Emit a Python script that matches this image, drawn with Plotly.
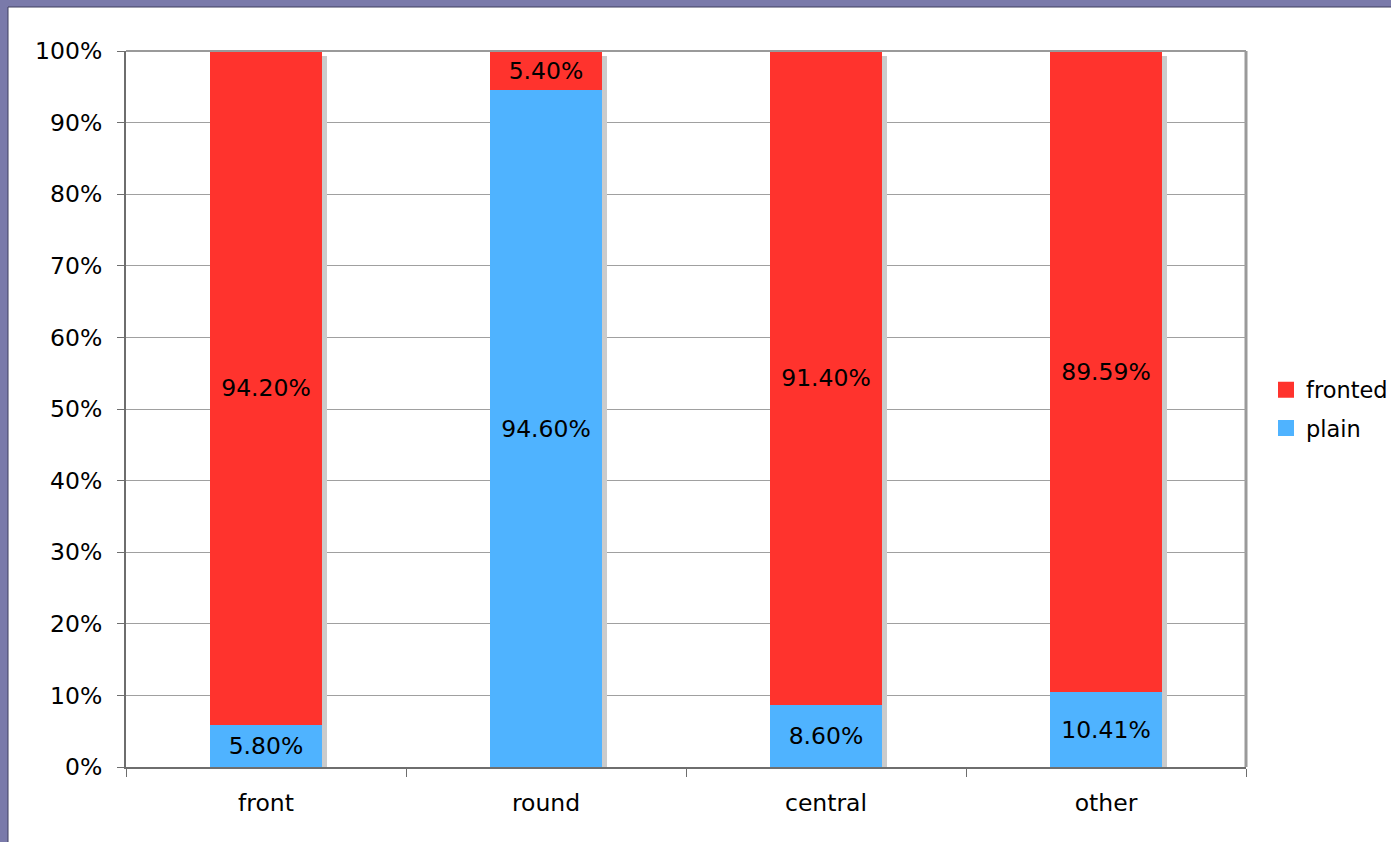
import plotly.graph_objects as go

# Share of fronted vs plain realisations per category
categories = ["front", "round", "central", "other"]
plain = [5.80, 94.60, 8.60, 10.41]
fronted = [94.20, 5.40, 91.40, 89.59]
y_ticks = [0, 10, 20, 30, 40, 50, 60, 70, 80, 90, 100]
y_tick_labels = [f"{v}%" for v in y_ticks]

RED = "#FF332D"
BLUE = "#4FB3FF"
SHADOW = "#CBCBCB"
FONT = "DejaVu Sans"
FS = 23.5
LEGEND_FS = 22.5

W, H = 1391, 842
ML, MR, MT, MB = 126, 145, 51, 75
PW, PH = W - ML - MR, H - MT - MB

BAR_W = 0.4
cat_px = PW / len(categories)
shadow_dx = 5 / cat_px          # shift of the drop shadow, in category units
shadow_dy = 5 / (PH / 100)      # drop of the shadow top, in % units

totals = [p + f for p, f in zip(plain, fronted)]

fig = go.Figure()

# drop shadow behind each stacked column
fig.add_trace(go.Bar(
    x=categories, y=[t - shadow_dy for t in totals], base=0,
    width=BAR_W, offset=-BAR_W / 2 + shadow_dx,
    marker=dict(color=SHADOW, line=dict(width=0)),
    hoverinfo="skip", showlegend=False,
))

fig.add_trace(go.Bar(
    x=categories, y=plain, base=0, name="plain",
    width=BAR_W, offset=-BAR_W / 2,
    marker=dict(color=BLUE, line=dict(width=0)),
    text=[f"{v:.2f}%" for v in plain],
    textposition="inside", insidetextanchor="middle", constraintext="none",
    textfont=dict(family=FONT, size=FS, color="black"),
    showlegend=False,
))

fig.add_trace(go.Bar(
    x=categories, y=fronted, base=plain, name="fronted",
    width=BAR_W, offset=-BAR_W / 2,
    marker=dict(color=RED, line=dict(width=0)),
    text=[f"{v:.2f}%" for v in fronted],
    textposition="inside", insidetextanchor="middle", constraintext="none",
    textfont=dict(family=FONT, size=FS, color="black"),
    showlegend=False,
))

# legend entries with square swatches
for name, color in [("fronted", RED), ("plain", BLUE)]:
    fig.add_trace(go.Scatter(
        x=[None], y=[None], mode="markers", name=name, legendgroup=name,
        marker=dict(symbol="square", size=17, color=color),
    ))

def px_x(px):
    return (px - ML) / PW

def px_y(py):
    return (H - MB - py) / PH

shapes = [
    # chart frame: top and right edges
    dict(type="line", xref="paper", yref="paper", x0=0, x1=1, y0=1, y1=1,
         line=dict(color="#9A9A9A", width=2), layer="above"),
    dict(type="line", xref="paper", yref="paper", x0=1, x1=1, y0=0, y1=1,
         line=dict(color="#9A9A9A", width=3), layer="below"),
    # window border strips
    dict(type="rect", xref="paper", yref="paper",
         x0=px_x(0), x1=px_x(W), y0=px_y(7), y1=px_y(0),
         fillcolor="#7A7AAA", line=dict(width=0), layer="above"),
    dict(type="rect", xref="paper", yref="paper",
         x0=px_x(0), x1=px_x(8), y0=px_y(H), y1=px_y(0),
         fillcolor="#7A7AAA", line=dict(width=0), layer="above"),
    dict(type="line", xref="paper", yref="paper",
         x0=px_x(8), x1=px_x(W), y0=px_y(7), y1=px_y(7),
         line=dict(color="#3E3E5E", width=1), layer="above"),
    dict(type="line", xref="paper", yref="paper",
         x0=px_x(8), x1=px_x(8), y0=px_y(H), y1=px_y(7),
         line=dict(color="#3E3E5E", width=1), layer="above"),
]

fig.update_layout(
    width=W, height=H,
    margin=dict(l=ML, r=MR, t=MT, b=MB, pad=0, autoexpand=False),
    paper_bgcolor="white", plot_bgcolor="white",
    barmode="overlay", bargap=0,
    font=dict(family=FONT, size=FS, color="black"),
    showlegend=True,
    legend=dict(x=px_x(1266), xanchor="left", y=px_y(409), yanchor="middle",
                bgcolor="rgba(0,0,0,0)", font=dict(family=FONT, size=LEGEND_FS),
                tracegroupgap=6, itemsizing="trace"),
    shapes=shapes,
)

fig.update_xaxes(
    type="category", range=[-0.5, len(categories) - 0.5],
    showgrid=False, showline=True, linecolor="#6E6E6E", linewidth=2,
    ticks="outside", tickson="boundaries", ticklen=8, tickcolor="#6E6E6E",
    tickwidth=1, ticklabelstandoff=14,
    tickfont=dict(family=FONT, size=FS, color="black"),
    zeroline=False, fixedrange=True,
)

fig.update_yaxes(
    range=[0, 100], tickmode="array", tickvals=y_ticks, ticktext=y_tick_labels,
    showgrid=True, gridcolor="#A0A0A0", gridwidth=1,
    showline=True, linecolor="#6E6E6E", linewidth=2,
    ticks="outside", ticklen=7, tickcolor="#6E6E6E", tickwidth=1,
    ticklabelstandoff=10,
    tickfont=dict(family=FONT, size=FS, color="black"),
    zeroline=False, fixedrange=True,
)

fig.write_html("out.html", config={"displayModeBar": False})
